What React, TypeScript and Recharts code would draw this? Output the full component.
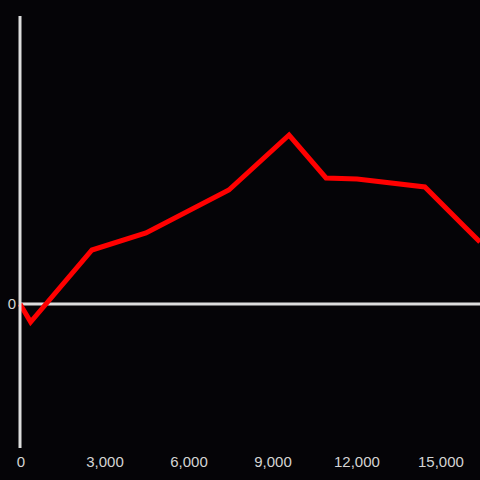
import { LineChart, Line, XAxis, YAxis, ReferenceLine } from 'recharts';

// x positions and values (y in arbitrary units)
const xs = [0, 380, 2570, 4500, 7460, 9610, 10930, 12040, 14460, 15890, 16430];
const values = [0, -18, 54, 71, 114, 169, 126, 125, 117, 77, 62];
const xTicks = [0, 3000, 6000, 9000, 12000, 15000];
const yTicks = [0];

const data = xs.map((x, i) => ({ x, value: values[i] }));

const axisColor = '#dddddd';
const labelColor = '#d4d4d4';
const font = 'Liberation Sans, Arial, sans-serif';

export default function App() {
  return (
    <div style={{ position: 'absolute', left: 0, top: 0, width: 480, height: 480, background: '#050407' }}>
      <LineChart width={480} height={480} data={data} margin={{ top: 16, right: 0, left: 0, bottom: 0 }}>
        <XAxis
          dataKey="x"
          type="number"
          domain={[0, 16430]}
          ticks={xTicks}
          tickFormatter={(v) => v.toLocaleString('en-US')}
          axisLine={false}
          tickLine={false}
          height={32}
          tick={{ fill: labelColor, fontSize: 15, fontFamily: font, dx: 1 }}
          interval={0}
        />
        <YAxis
          type="number"
          domain={[-144, 288]}
          ticks={yTicks}
          width={20}
          axisLine={{ stroke: axisColor, strokeWidth: 3 }}
          tickLine={false}
          tickSize={0}
          tickMargin={4}
          tick={{ fill: labelColor, fontSize: 15, fontFamily: font }}
        />
        <ReferenceLine y={0} stroke={axisColor} strokeWidth={3} />
        <Line
          type="linear"
          dataKey="value"
          stroke="#ff0000"
          strokeWidth={5}
          dot={false}
          isAnimationActive={false}
        />
      </LineChart>
    </div>
  );
}
